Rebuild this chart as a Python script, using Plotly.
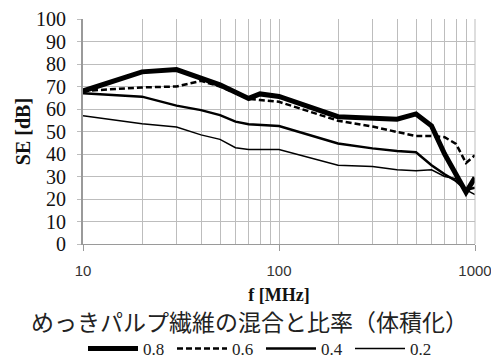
import plotly.graph_objects as go

freq = [10, 20, 30, 40, 50, 60, 70, 80, 90, 100, 200, 300, 400, 500, 600, 700, 800, 900, 1000]
se_08 = [68, 76.5, 77.5, 73.5, 70.7, 67.4, 64.7, 66.7, 66.4, 65.6, 56.6, 55.9, 55.5, 57.8, 52.5, 40, 31, 23, 29.5]
se_06 = [68, 69.6, 70, 72.5, 70, 67, 64.5, 64, 63.6, 63.2, 54.8, 52.2, 49.8, 48, 48, 47.5, 44.5, 36, 39.5]
se_04 = [67, 65.5, 61.5, 59.5, 57.3, 54.4, 53.2, 52.9, 52.6, 52.4, 44.7, 42.5, 41.3, 40.8, 35, 31, 28, 24, 25]
se_02 = [57, 53.5, 52, 48.5, 46.5, 42.8, 42, 42, 42, 42, 35, 34.4, 33, 32.6, 33, 30, 29, 24, 22]

series_names = ["0.8", "0.6", "0.4", "0.2"]
x_ticks = [10, 100, 1000]
x_ticktext = ["10", "100", "1000"]
x_minor = [20, 30, 40, 50, 60, 70, 80, 90, 200, 300, 400, 500, 600, 700, 800, 900]
title_text = "めっきパルプ繊維の混合と比率（体積化）"

styles = [
    dict(width=5, dash="solid"),
    dict(width=2.5, dash="6px,3px"),
    dict(width=2.5, dash="solid"),
    dict(width=1.5, dash="solid"),
]

fig = go.Figure()
for name, ys, st in zip(series_names, [se_08, se_06, se_04, se_02], styles):
    fig.add_trace(go.Scatter(
        x=freq, y=ys, mode="lines", name=name,
        line=dict(color="black", width=st["width"], dash=st["dash"]),
    ))

grid = "#bdbdbd"
fig.update_layout(
    width=499, height=390,
    margin=dict(l=75, r=32, t=11, b=154),
    paper_bgcolor="white", plot_bgcolor="white",
    showlegend=True,
    legend=dict(
        orientation="h", x=0.0, xanchor="left", y=-0.386, yanchor="top",
        font=dict(family="Liberation Serif", size=17, color="#222"),
        entrywidth=24, entrywidthmode="pixels",
        itemwidth=50, tracegroupgap=0,
        bgcolor="rgba(0,0,0,0)",
    ),
    xaxis=dict(
        type="log", range=[1, 3], automargin=False,
        tickvals=x_ticks, ticktext=x_ticktext,
        tickfont=dict(family="Liberation Sans", size=15, color="#333"),
        ticklabelstandoff=7,
        showgrid=True, gridcolor=grid, gridwidth=1,
        minor=dict(tickvals=x_minor, showgrid=True, gridcolor=grid, gridwidth=1, ticks=""),
        showline=True, linecolor="#9a9a9a", linewidth=1,
        ticks="outside", ticklen=6, tickcolor="#9a9a9a",
        zeroline=False,
        title=dict(text="<b>f [MHz]</b>", font=dict(family="Liberation Serif", size=18, color="#111"), standoff=10),
    ),
    yaxis=dict(
        range=[0, 100], dtick=10, automargin=False,
        tickfont=dict(family="Liberation Serif", size=20, color="#111"),
        ticklabelstandoff=7,
        showgrid=True, gridcolor=grid, gridwidth=1,
        showline=True, linecolor="#9a9a9a", linewidth=2,
        ticks="outside", ticklen=4, tickcolor=grid,
        zeroline=False,
        title=dict(text="<b>SE [dB]</b>", font=dict(family="Liberation Serif", size=20, color="#111"), standoff=0),
    ),
    annotations=[dict(
        text=title_text, xref="paper", yref="paper",
        x=0.426, y=-0.34, xanchor="center", yanchor="middle", showarrow=False,
        height=26, valign="middle",
        font=dict(family="Noto Sans CJK JP", size=23, color="#222"),
    )],
)
fig.add_shape(type="line", xref="paper", yref="paper", x0=1, x1=1, y0=0, y1=1,
              line=dict(color=grid, width=1))

fig.write_html("out.html")
